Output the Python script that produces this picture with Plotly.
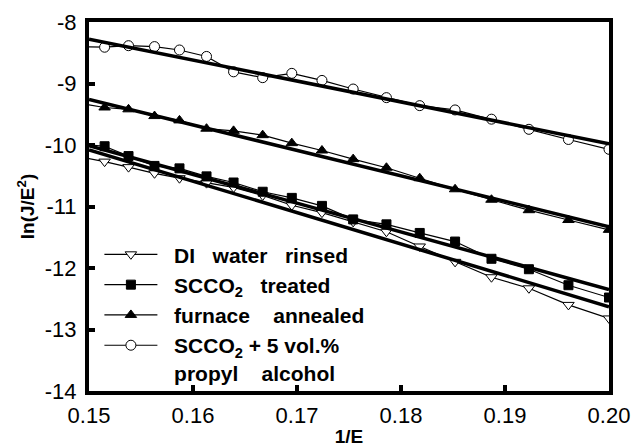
import plotly.graph_objects as go

inv_E = [0.1493, 0.1515, 0.1538, 0.1563, 0.1587, 0.1613, 0.1639, 0.1667, 0.1695,
         0.1724, 0.1754, 0.1786, 0.1818, 0.1852, 0.1887, 0.1923, 0.1961, 0.2000]

di_water = [-10.20, -10.27, -10.36, -10.46, -10.54, -10.62, -10.69, -10.82, -10.98,
            -11.10, -11.25, -11.41, -11.65, -11.90, -12.15, -12.33, -12.60, -12.82]
scco2 = [-9.99, -10.02, -10.18, -10.34, -10.38, -10.51, -10.61, -10.76, -10.86,
         -10.99, -11.21, -11.29, -11.43, -11.57, -11.85, -12.02, -12.28, -12.48]
furnace = [-9.33, -9.39, -9.42, -9.53, -9.60, -9.735, -9.77, -9.84, -9.97,
           -10.09, -10.23, -10.37, -10.54, -10.72, -10.89, -11.06, -11.22, -11.38]
scco2_pa = [-8.40, -8.41, -8.385, -8.40, -8.455, -8.56, -8.81, -8.905, -8.835,
            -8.95, -9.09, -9.23, -9.36, -9.43, -9.58, -9.745, -9.91, -10.07]

fit_x = [0.15, 0.20]
fit_di = [-10.08, -12.63]
fit_scco2 = [-10.01, -12.35]
fit_furnace = [-9.26, -11.33]
fit_pa = [-8.28, -9.98]

x_tickvals = [0.15, 0.16, 0.17, 0.18, 0.19, 0.20]
x_ticktext = ["0.15", "0.16", "0.17", "0.18", "0.19", "0.20"]
y_tickvals = [-14, -13, -12, -11, -10, -9, -8]
y_ticktext = ["-14", "-13", "-12", "-11", "-10", "-9", "-8"]

NB = "\u00a0"
names = [NB * 2 + "DI" + NB * 3 + "water" + NB * 3 + "rinsed",
         NB * 2 + "SCCO<sub>2</sub>" + NB * 3 + "treated",
         NB * 2 + "furnace" + NB * 4 + "annealed",
         NB * 2 + "SCCO<sub>2</sub>" + NB + "+" + NB + "5" + NB + "vol.%<br>" + NB * 2 + "propyl" + NB * 4 + "alcohol"]

fig = go.Figure()

series = [
    (di_water, names[0], "triangle-down", "white", 10),
    (scco2, names[1], "square", "black", 9),
    (furnace, names[2], "triangle-up", "black", 10),
    (scco2_pa, names[3], "circle", "white", 10),
]
for ys, nm, sym, fill, sz in series:
    fig.add_trace(go.Scatter(
        x=inv_E, y=ys, name=nm, mode="lines+markers",
        line=dict(color="black", width=1.2),
        marker=dict(symbol=sym, size=sz, color=fill, line=dict(color="black", width=1)),
        cliponaxis=True,
    ))

for fy in [fit_di, fit_scco2, fit_furnace, fit_pa]:
    fig.add_trace(go.Scatter(
        x=fit_x, y=fy, mode="lines", showlegend=False,
        line=dict(color="black", width=3.5), hoverinfo="skip",
    ))

FONT = "Liberation Sans, Arial, sans-serif"
fig.update_layout(
    width=633, height=447,
    margin=dict(l=89, r=24, t=22, b=56),
    paper_bgcolor="white", plot_bgcolor="white",
    font=dict(family=FONT, color="black", size=20),
    showlegend=True,
    legend=dict(
        x=0.02, y=0.425, xanchor="left", yanchor="top",
        bgcolor="rgba(0,0,0,0)", borderwidth=0,
        font=dict(family=FONT, size=21, color="black", weight="bold"),
        itemwidth=53, valign="top", tracegroupgap=0,
    ),
)

fig.update_xaxes(
    range=[0.15, 0.20], tickmode="array", tickvals=x_tickvals, ticktext=x_ticktext,
    showline=True, linecolor="black", linewidth=4, mirror=True,
    ticks="inside", ticklen=6, tickwidth=4, tickcolor="black",
    showgrid=False, zeroline=False, automargin=False,
    tickfont=dict(size=22, family=FONT),
    ticklabelstandoff=2,
    title=dict(text="<b>1/E</b>", font=dict(size=19), standoff=4),
)
fig.update_yaxes(
    range=[-14, -8], tickmode="array", tickvals=y_tickvals, ticktext=y_ticktext,
    showline=True, linecolor="black", linewidth=4, mirror=True,
    ticks="inside", ticklen=6, tickwidth=4, tickcolor="black",
    showgrid=False, zeroline=False, automargin=False,
    tickfont=dict(size=22, family=FONT),
    ticklabelstandoff=4,
    title=dict(text="<b>ln(J/E<sup>2</sup>)</b>", font=dict(size=19), standoff=6),
)

fig.write_html("out.html", config={"displayModeBar": False},
               post_script="document.body.style.margin='0';document.body.style.overflow='hidden';")
